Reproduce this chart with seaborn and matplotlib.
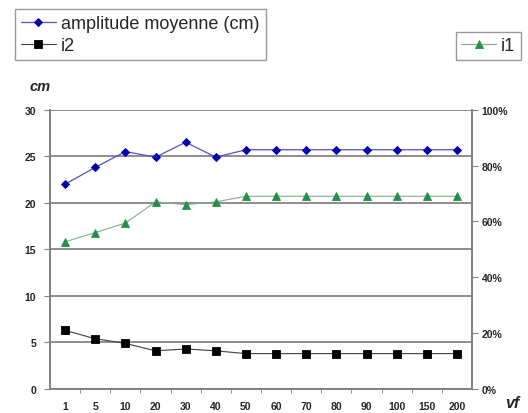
import matplotlib
matplotlib.use("Agg")
import matplotlib.pyplot as plt
import seaborn as sns
import pandas as pd
from matplotlib.ticker import PercentFormatter, FixedLocator

vf = ['1', '5', '10', '20', '30', '40', '50', '60', '70', '80', '90', '100', '150', '200']
amplitude = [22.0, 23.8, 25.5, 24.9, 26.5, 24.9, 25.7, 25.7, 25.7, 25.7, 25.7, 25.7, 25.7, 25.7]
i2 = [6.3, 5.4, 4.9, 4.1, 4.3, 4.1, 3.8, 3.8, 3.8, 3.8, 3.8, 3.8, 3.8, 3.8]
i1 = [0.527, 0.56, 0.594, 0.67, 0.66, 0.67, 0.69, 0.69, 0.69, 0.69, 0.69, 0.69, 0.69, 0.69]

df = pd.DataFrame({'vf': vf, 'amplitude': amplitude, 'i2': i2, 'i1': i1})

sns.set_style("white")
plt.rcParams['font.family'] = ['Liberation Sans', 'DejaVu Sans']

fig = plt.figure(figsize=(5.28, 4.14), dpi=100)
ax = fig.add_axes([50 / 528, 1 - 390 / 414, 422 / 528, 279.3 / 414])
ax2 = ax.twinx()

sns.pointplot(data=df, x='vf', y='amplitude', order=vf, ax=ax, color='#0000b0',
              markers='D', markersize=4, linewidth=0.9, label='amplitude moyenne (cm)')
sns.pointplot(data=df, x='vf', y='i2', order=vf, ax=ax, color='#000000',
              markers='s', markersize=5.5, linewidth=0.8, label='i2')
sns.pointplot(data=df, x='vf', y='i1', order=vf, ax=ax2, color='#23904a',
              markers='^', markersize=5.5, linewidth=0.8, label='i1')

# lighter connecting lines, markers keep the strong colour
line_cols = {'D': '#5050c8', 's': '#404040', '^': '#8aa890'}
for a in (ax, ax2):
    for ln in a.lines:
        m = ln.get_marker()
        if m in line_cols:
            mc = ln.get_markerfacecolor()
            ln.set_color(line_cols[m])
            ln.set_markerfacecolor(mc)
            ln.set_markeredgecolor(mc)

ax.set_ylim(0, 30)
ax2.set_ylim(0, 1)
ax.set_xlim(-0.5, len(vf) - 0.5)
ax.set_yticks(range(0, 31, 5))
ax2.set_yticks([0, 0.2, 0.4, 0.6, 0.8, 1.0])
ax2.yaxis.set_major_formatter(PercentFormatter(1.0, decimals=0))

ax.grid(axis='y', color='#7a7a7a', linewidth=1.2)
ax.set_axisbelow(True)
ax.set_xlabel('')
ax.set_ylabel('')
ax2.set_xlabel('')
ax2.set_ylabel('')

for a in (ax, ax2):
    a.spines['top'].set_visible(False)
    for s in ('left', 'right', 'bottom'):
        a.spines[s].set_color('#808080')
        a.spines[s].set_linewidth(1.2)

ax.tick_params(axis='y', which='major', left=True, length=4, color='#808080',
               labelsize=7.5, pad=6)
ax2.tick_params(axis='y', which='major', right=True, length=4, color='#808080',
                labelsize=7.5, pad=3)
ax.tick_params(axis='x', which='major', length=0, labelsize=7.5, pad=9)
ax.xaxis.set_minor_locator(FixedLocator([i + 0.5 for i in range(len(vf) - 1)]))
ax.tick_params(axis='x', which='minor', bottom=True, length=3, color='#808080')
for lab in ax.get_yticklabels() + ax2.get_yticklabels() + ax.get_xticklabels():
    lab.set_fontweight('bold')

fig.text(30 / 528, 1 - 87 / 414, 'cm', fontsize=10.5, fontweight='bold', fontstyle='italic',
         ha='left', va='center')
fig.text(505 / 528, 1 - 404 / 414, 'vf', fontsize=11.5, fontweight='bold', fontstyle='italic',
         ha='left', va='center')

h1, l1 = ax.get_legend_handles_labels()
h2, l2 = ax2.get_legend_handles_labels()
leg1 = fig.legend(h1, l1, loc='upper left', bbox_to_anchor=(15 / 528, 1 - 10 / 414),
                  fontsize=13, frameon=True, fancybox=False, edgecolor='#808080',
                  handlelength=1.9, handletextpad=0.3, borderpad=0.35, labelspacing=0.25,
                  borderaxespad=0)
leg2 = fig.legend(h2, l2, loc='upper left', bbox_to_anchor=(456 / 528, 1 - 33 / 414),
                  fontsize=13, frameon=True, fancybox=False, edgecolor='#808080',
                  handlelength=1.9, handletextpad=0.3, borderpad=0.3, borderaxespad=0)
for leg in (leg1, leg2):
    leg.get_frame().set_linewidth(1.0)
if ax.get_legend():
    ax.get_legend().remove()
if ax2.get_legend():
    ax2.get_legend().remove()

fig.savefig('out.png', dpi=100)
